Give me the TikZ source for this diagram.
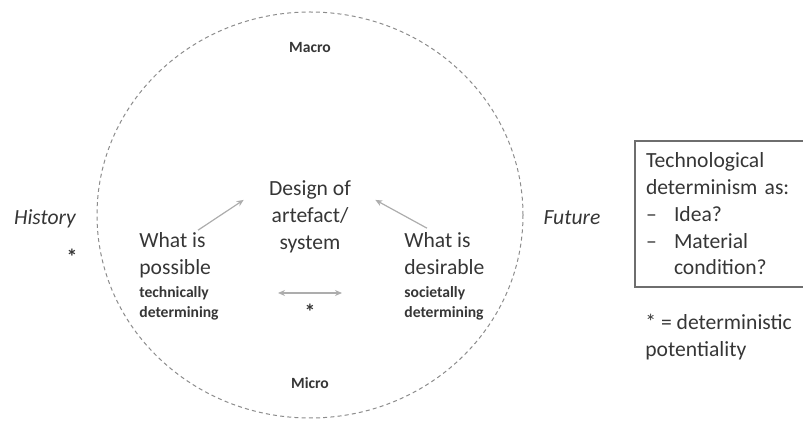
\documentclass[tikz,border=0pt]{standalone}
\usepackage{fontspec}
\setmainfont{Carlito}
\usetikzlibrary{arrows.meta}
\definecolor{inkgray}{HTML}{363636}
\definecolor{linegray}{HTML}{8C8C8C}
\definecolor{arrowgray}{HTML}{ADADAD}
\definecolor{boxgray}{HTML}{6E6E6E}
\newcommand{\mainsize}{\fontsize{10.8}{13.7}\selectfont}
\newcommand{\notesize}{\fontsize{7.8}{10}\selectfont\bfseries}

\begin{document}
\begin{tikzpicture}[x=0.5pt,y=-0.5pt,
  every node/.style={inner sep=0pt,text=inkgray},
  label/.style={font=\mainsize},
  note/.style={font=\notesize,align=left,anchor=base west},
  arrow/.style={draw=arrowgray,line width=0.6pt},
  tip/.tip={Stealth[length=3.5pt,width=3pt]}]
\useasboundingbox (0,0) rectangle (803,421);
\draw[linegray,dash pattern=on 2pt off 1.6pt,line width=0.5pt] (310,215) ellipse [x radius=213,y radius=203];

\node[font=\notesize] (macro) at (310,48) {Macro};
\node[font=\notesize] (micro) at (310,383) {Micro};
\node[label,font=\mainsize\itshape,anchor=base] (history) at (45,225) {History};
\node[label,font=\mainsize\bfseries] (histstar) at (72,257) {*};
\node[label,font=\mainsize\itshape,anchor=base] (future) at (572,225) {Future};

% multi-line nodes: base is the last line
\node[label,align=center,anchor=base] (design) at (310,250) {Design of\\artefact/\\system};
\node[label,align=left,anchor=base west] (possible) at (139,275) {What is\\possible};
\node[note] (possnote) at (139,318) {technically\\determining};
\node[label,align=left,anchor=base west] (desirable) at (404,275) {What is\\desirable};
\node[note] (desnote) at (404,318) {societally\\determining};
\node[label,font=\mainsize\bfseries] (midstar) at (310,312) {*};

\draw[arrow,-tip] ([shift={(59,-2)}]possible.north west) -- ([shift={(-25,-17)}]design.west);
\draw[arrow,-tip] ([shift={(23,-4)}]desirable.north west) -- ([shift={(24,-17)}]design.east);
\draw[arrow,tip-tip] ([shift={(-32,-19)}]midstar.center) -- ([shift={(32,-19)}]midstar.center);

% box runs past the right edge
\node[draw=boxgray,line width=1pt,anchor=north west,inner xsep=5.5pt,inner ysep=6pt,
  text width=100pt,align=left,font=\fontsize{10.8}{13.35}\selectfont] (tdbox) at (634,140)
  {Technological\\determinism as:\\\makebox[14pt][l]{--}Idea?\\\makebox[14pt][l]{--}Material\\\hspace*{14pt}condition?};
\node[label,align=left,anchor=base west] (key) at (645,357) {* = deterministic\\potentiality};
\end{tikzpicture}
\end{document}
